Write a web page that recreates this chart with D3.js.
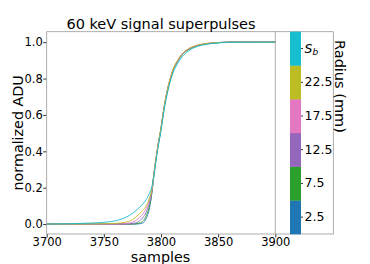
<!DOCTYPE html>
<html>
<head>
<meta charset="utf-8">
<script src="https://cdn.jsdelivr.net/npm/d3@7"></script>
<style>
  html, body { margin: 0; padding: 0; background: #fff; }
  svg { display: block; font-family: "DejaVu Sans", sans-serif; }
</style>
</head>
<body>
<svg id="chart" width="370" height="264"></svg>
<script>
// ---- data ----
const samples = [3700, 3740, 3760, 3770, 3775, 3780, 3784, 3787, 3790, 3792, 3794, 3797, 3800, 3803, 3806, 3810, 3815, 3820, 3825, 3830, 3840, 3850, 3860, 3900];
const radiusLabels = ["2.5", "7.5", "12.5", "17.5", "22.5", "Sb"];
const seriesColors = ["#1f77b4", "#2ca02c", "#9467bd", "#e377c2", "#bcbd22", "#17becf"];
const r2_5  = [0, 0, 0, 0, 0, 0.001, 0.006, 0.030, 0.090, 0.170, 0.280, 0.415, 0.525, 0.650, 0.745, 0.835, 0.900, 0.940, 0.963, 0.977, 0.991, 0.997, 1.0, 1.0];
const r7_5  = [0, 0, 0, 0, 0, 0.004, 0.015, 0.045, 0.105, 0.175, 0.282, 0.415, 0.525, 0.650, 0.745, 0.835, 0.900, 0.940, 0.963, 0.977, 0.991, 0.997, 1.0, 1.0];
const r12_5 = [0, 0, 0, 0, 0.003, 0.012, 0.035, 0.065, 0.120, 0.180, 0.284, 0.417, 0.527, 0.652, 0.747, 0.837, 0.902, 0.942, 0.965, 0.978, 0.992, 0.998, 1.0, 1.0];
const r17_5 = [0, 0, 0, 0.004, 0.010, 0.030, 0.055, 0.085, 0.135, 0.185, 0.286, 0.419, 0.529, 0.654, 0.750, 0.840, 0.905, 0.944, 0.967, 0.980, 0.993, 0.998, 1.0, 1.0];
const r22_5 = [0, 0.001, 0.004, 0.012, 0.025, 0.050, 0.075, 0.100, 0.145, 0.192, 0.288, 0.420, 0.530, 0.655, 0.750, 0.840, 0.905, 0.944, 0.967, 0.980, 0.993, 0.998, 1.0, 1.0];
const rSb   = [0, 0.006, 0.018, 0.040, 0.058, 0.085, 0.110, 0.135, 0.170, 0.205, 0.275, 0.405, 0.512, 0.637, 0.730, 0.822, 0.888, 0.930, 0.956, 0.972, 0.988, 0.996, 0.999, 1.0];
const seriesValues = [r2_5, r7_5, r12_5, r17_5, r22_5, rSb];
const xTicks = [3700, 3750, 3800, 3850, 3900];
const yTicks = [0.0, 0.2, 0.4, 0.6, 0.8, 1.0];

// ---- layout ----
const svg = d3.select("#chart");
const L = 46.7, R = 275.3, T = 31.7, B = 234, FR = 333.3;
const x = d3.scaleLinear().domain([3700, 3900]).range([L, R]);
const y = d3.scaleLinear().domain([-0.0545, 1.0575]).range([B, T]);
const frameColor = "#999";

// lines
const line = d3.line().x(d => x(d[0])).y(d => y(d[1])).curve(d3.curveMonotoneX);
const g = svg.append("g");
seriesValues.forEach((vals, i) => {
  g.append("path")
    .datum(samples.map((s, j) => [s, vals[j]]))
    .attr("d", line)
    .attr("fill", "none")
    .attr("stroke", seriesColors[i])
    .attr("stroke-width", 1)
    .attr("stroke-opacity", 0.9);
});

// axes
const xAxis = d3.axisBottom(x).tickValues(xTicks).tickFormat(d3.format("d")).tickSize(3.5).tickPadding(0);
const yAxis = d3.axisLeft(y).tickValues(yTicks).tickFormat(d3.format(".1f")).tickSize(3.5).tickPadding(0.5);
const gx = svg.append("g").attr("transform", `translate(0,${B})`).call(xAxis);
const gy = svg.append("g").attr("transform", `translate(${L},0)`).call(yAxis);
[gx, gy].forEach(a => {
  a.select(".domain").remove();
  a.selectAll(".tick line").attr("stroke", "#000").attr("stroke-width", 0.8);
  a.selectAll(".tick text").attr("font-size", 11.5).attr("fill", "#000").attr("font-family", "DejaVu Sans");
});

// frame
svg.append("rect").attr("x", L).attr("y", T).attr("width", FR - L).attr("height", B - T)
  .attr("fill", "none").attr("stroke", frameColor).attr("stroke-width", 0.8);
svg.append("line").attr("x1", R).attr("x2", R).attr("y1", T).attr("y2", B)
  .attr("stroke", frameColor).attr("stroke-width", 0.8);

// colorbar
const cb = d3.scaleBand().domain(radiusLabels).range([B, T]);
const cbX = 290, cbW = 11;
svg.append("g").selectAll("rect").data(radiusLabels).join("rect")
  .attr("x", cbX).attr("y", d => cb(d)).attr("width", cbW).attr("height", cb.bandwidth() + 0.3)
  .attr("fill", (d, i) => seriesColors[i]);
const cbAxis = d3.axisRight(cb).tickSize(2).tickPadding(1.5).tickFormat(d => d === "Sb" ? "" : d);
const gcb = svg.append("g").attr("transform", `translate(${cbX + cbW},0)`).call(cbAxis);
gcb.select(".domain").remove();
gcb.selectAll(".tick line").attr("stroke", "#000").attr("stroke-width", 0.8);
gcb.selectAll(".tick text").attr("font-size", 12.5).attr("fill", "#000").attr("font-family", "DejaVu Sans");
const sbText = svg.append("text").attr("x", cbX + cbW + 3.5).attr("y", cb("Sb") + cb.bandwidth() / 2 + 4)
  .attr("font-size", 12.5).attr("font-style", "italic");
sbText.append("tspan").text("S");
sbText.append("tspan").attr("font-size", 9).attr("dy", 2.5).text("b");

// titles
svg.append("text").attr("x", 161).attr("y", 28.5).attr("text-anchor", "middle")
  .attr("font-size", 14.5).text("60 keV signal superpulses");
svg.append("text").attr("x", (L + R) / 2 - 0.5).attr("y", 262).attr("text-anchor", "middle")
  .attr("font-size", 14.3).text("samples");
svg.append("text").attr("transform", `translate(22.7,${(T + B) / 2}) rotate(-90)`).attr("text-anchor", "middle")
  .attr("font-size", 14.3).text("normalized ADU");
svg.append("text").attr("transform", `translate(335,40) rotate(90)`).attr("text-anchor", "start")
  .attr("font-size", 14.5).text("Radius (mm)");
</script>
</body>
</html>
